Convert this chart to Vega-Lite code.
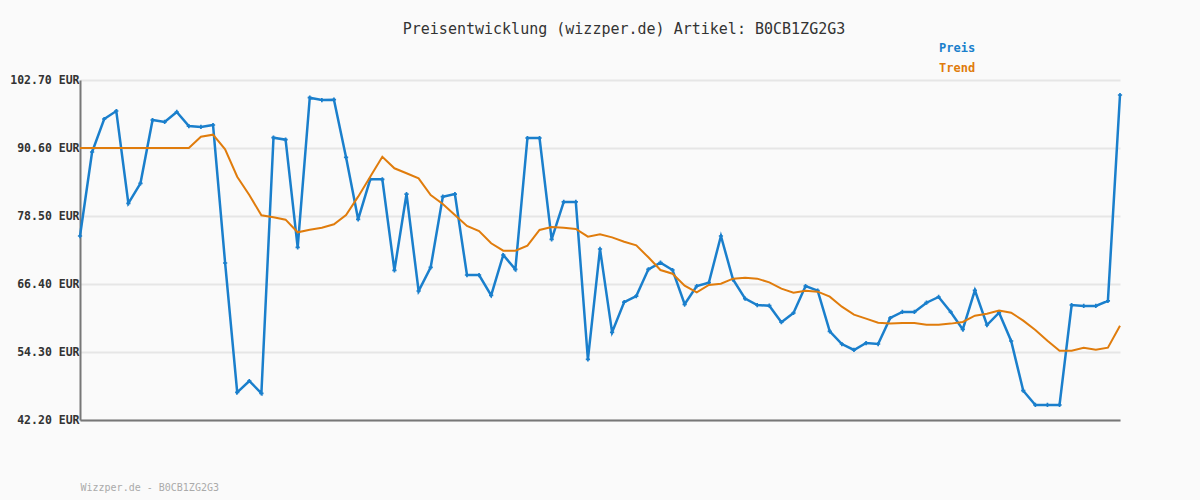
{
  "$schema": "https://vega.github.io/schema/vega-lite/v6.json",
  "width": 1040,
  "height": 340,
  "autosize": {"type": "none"},
  "padding": {"left": 80, "top": 80, "right": 80, "bottom": 80},
  "background": "#fafafa",
  "config": {"view": {"stroke": null}, "font": "DejaVu Sans Mono"},
  "title": {"text": "Preisentwicklung (wizzper.de) Artikel: B0CB1ZG2G3", "fontSize": 15, "fontWeight": "normal", "color": "#333333", "anchor": "middle", "dx": 24, "offset": 5, "font": "DejaVu Sans Mono"},
  "data": {"values": [
    {"t": 0, "Preis": 74.94, "Trend": 90.6},
    {"t": 1, "Preis": 89.89, "Trend": 90.6},
    {"t": 2, "Preis": 95.76, "Trend": 90.6},
    {"t": 3, "Preis": 97.18, "Trend": 90.6},
    {"t": 4, "Preis": 80.75, "Trend": 90.6},
    {"t": 5, "Preis": 84.31, "Trend": 90.6},
    {"t": 6, "Preis": 95.58, "Trend": 90.6},
    {"t": 7, "Preis": 95.23, "Trend": 90.6},
    {"t": 8, "Preis": 97.01, "Trend": 90.6},
    {"t": 9, "Preis": 94.51, "Trend": 90.6},
    {"t": 10, "Preis": 94.34, "Trend": 92.61},
    {"t": 11, "Preis": 94.69, "Trend": 92.97},
    {"t": 12, "Preis": 70.14, "Trend": 90.37},
    {"t": 13, "Preis": 47.12, "Trend": 85.49},
    {"t": 14, "Preis": 49.14, "Trend": 82.24},
    {"t": 15, "Preis": 46.95, "Trend": 78.62},
    {"t": 16, "Preis": 92.43, "Trend": 78.27},
    {"t": 17, "Preis": 92.08, "Trend": 77.85},
    {"t": 18, "Preis": 72.93, "Trend": 75.6},
    {"t": 19, "Preis": 99.55, "Trend": 76.06},
    {"t": 20, "Preis": 99.14, "Trend": 76.42},
    {"t": 21, "Preis": 99.2, "Trend": 77.02},
    {"t": 22, "Preis": 88.94, "Trend": 78.68},
    {"t": 23, "Preis": 77.91, "Trend": 81.94},
    {"t": 24, "Preis": 85.03, "Trend": 85.49},
    {"t": 25, "Preis": 85.03, "Trend": 89.05},
    {"t": 26, "Preis": 68.83, "Trend": 86.99},
    {"t": 27, "Preis": 82.41, "Trend": 86.1},
    {"t": 28, "Preis": 65.15, "Trend": 85.21},
    {"t": 29, "Preis": 69.37, "Trend": 82.24},
    {"t": 30, "Preis": 81.94, "Trend": 80.64},
    {"t": 31, "Preis": 82.41, "Trend": 78.68},
    {"t": 32, "Preis": 68.0, "Trend": 76.72},
    {"t": 33, "Preis": 68.0, "Trend": 75.83},
    {"t": 34, "Preis": 64.39, "Trend": 73.64},
    {"t": 35, "Preis": 71.56, "Trend": 72.33},
    {"t": 36, "Preis": 69.01, "Trend": 72.33},
    {"t": 37, "Preis": 92.38, "Trend": 73.21},
    {"t": 38, "Preis": 92.38, "Trend": 76.01},
    {"t": 39, "Preis": 74.35, "Trend": 76.54},
    {"t": 40, "Preis": 81.0, "Trend": 76.42},
    {"t": 41, "Preis": 81.0, "Trend": 76.19},
    {"t": 42, "Preis": 52.99, "Trend": 74.82},
    {"t": 43, "Preis": 72.63, "Trend": 75.24},
    {"t": 44, "Preis": 57.8, "Trend": 74.7},
    {"t": 45, "Preis": 63.19, "Trend": 73.93},
    {"t": 46, "Preis": 64.26, "Trend": 73.28},
    {"t": 47, "Preis": 69.01, "Trend": 71.15},
    {"t": 48, "Preis": 70.2, "Trend": 68.89},
    {"t": 49, "Preis": 68.89, "Trend": 68.23},
    {"t": 50, "Preis": 62.79, "Trend": 66.1},
    {"t": 51, "Preis": 66.04, "Trend": 64.92},
    {"t": 52, "Preis": 66.63, "Trend": 66.22},
    {"t": 53, "Preis": 74.94, "Trend": 66.46},
    {"t": 54, "Preis": 67.2, "Trend": 67.35},
    {"t": 55, "Preis": 63.8, "Trend": 67.53},
    {"t": 56, "Preis": 62.66, "Trend": 67.35},
    {"t": 57, "Preis": 62.54, "Trend": 66.7},
    {"t": 58, "Preis": 59.6, "Trend": 65.57},
    {"t": 59, "Preis": 61.24, "Trend": 64.86},
    {"t": 60, "Preis": 66.04, "Trend": 65.21},
    {"t": 61, "Preis": 65.21, "Trend": 65.03},
    {"t": 62, "Preis": 57.98, "Trend": 64.15},
    {"t": 63, "Preis": 55.72, "Trend": 62.37},
    {"t": 64, "Preis": 54.66, "Trend": 60.95},
    {"t": 65, "Preis": 55.9, "Trend": 60.23},
    {"t": 66, "Preis": 55.72, "Trend": 59.52},
    {"t": 67, "Preis": 60.35, "Trend": 59.35},
    {"t": 68, "Preis": 61.42, "Trend": 59.46},
    {"t": 69, "Preis": 61.42, "Trend": 59.46},
    {"t": 70, "Preis": 63.07, "Trend": 59.16},
    {"t": 71, "Preis": 64.09, "Trend": 59.16},
    {"t": 72, "Preis": 61.42, "Trend": 59.35},
    {"t": 73, "Preis": 58.33, "Trend": 59.64},
    {"t": 74, "Preis": 65.28, "Trend": 60.77},
    {"t": 75, "Preis": 59.1, "Trend": 61.12},
    {"t": 76, "Preis": 61.3, "Trend": 61.66},
    {"t": 77, "Preis": 56.26, "Trend": 61.3},
    {"t": 78, "Preis": 47.41, "Trend": 59.88},
    {"t": 79, "Preis": 44.87, "Trend": 58.22},
    {"t": 80, "Preis": 44.87, "Trend": 56.32},
    {"t": 81, "Preis": 44.87, "Trend": 54.54},
    {"t": 82, "Preis": 62.66, "Trend": 54.54},
    {"t": 83, "Preis": 62.49, "Trend": 55.07},
    {"t": 84, "Preis": 62.49, "Trend": 54.72},
    {"t": 85, "Preis": 63.38, "Trend": 55.07},
    {"t": 86, "Preis": 100.03, "Trend": 58.98}
  ]},
  "transform": [{"fold": ["Preis", "Trend"], "as": ["series", "value"]}],
  "encoding": {
    "x": {"field": "t", "type": "quantitative", "scale": {"domain": [0, 86], "nice": false, "zero": false},
      "axis": {"labels": false, "ticks": false, "grid": false, "domainColor": "#777777", "domainWidth": 2,
        "title": "Wizzper.de - B0CB1ZG2G3", "titleAnchor": "start", "titleFontSize": 10, "titleFontWeight": "normal", "titleColor": "#aaaaaa", "titlePadding": 62, "titleFont": "DejaVu Sans Mono"}},
    "y": {"field": "value", "type": "quantitative", "scale": {"domain": [42.2, 102.7], "nice": false, "zero": false},
      "axis": {"values": [42.2, 54.3, 66.4, 78.5, 90.6, 102.7], "labelExpr": "format(datum.value,'.2f')+' EUR'", "ticks": false, "labelPadding": 1, "labelFontSize": 11.5, "labelFontWeight": "bold", "labelColor": "#333333", "labelFont": "DejaVu Sans Mono",
        "grid": true, "gridColor": "#e6e6e6", "gridWidth": 2, "domainColor": "#777777", "domainWidth": 2, "title": null}},
    "color": {"field": "series", "type": "nominal", "scale": {"domain": ["Preis", "Trend"], "range": ["#1a7fcc", "#e07c0c"]},
      "legend": {"orient": "none", "legendX": 847, "legendY": -38, "title": null, "symbolSize": 0, "symbolOpacity": 0, "symbolStrokeWidth": 0, "labelOffset": 0, "labelFontSize": 12, "labelFontWeight": "bold", "labelFont": "DejaVu Sans Mono", "rowPadding": 8,
        "encode": {"labels": {"update": {"fill": {"scale": "color", "field": "value"}}}}}}
  },
  "layer": [
    {"transform": [{"filter": "datum.series === 'Preis'"}], "mark": {"type": "line", "strokeWidth": 2.5}},
    {"transform": [{"filter": "datum.series === 'Preis'"}], "mark": {"type": "point", "shape": "cross", "filled": true, "size": 18, "opacity": 1}},
    {"transform": [{"filter": "datum.series === 'Trend'"}], "mark": {"type": "line", "strokeWidth": 2}}
  ]
}
